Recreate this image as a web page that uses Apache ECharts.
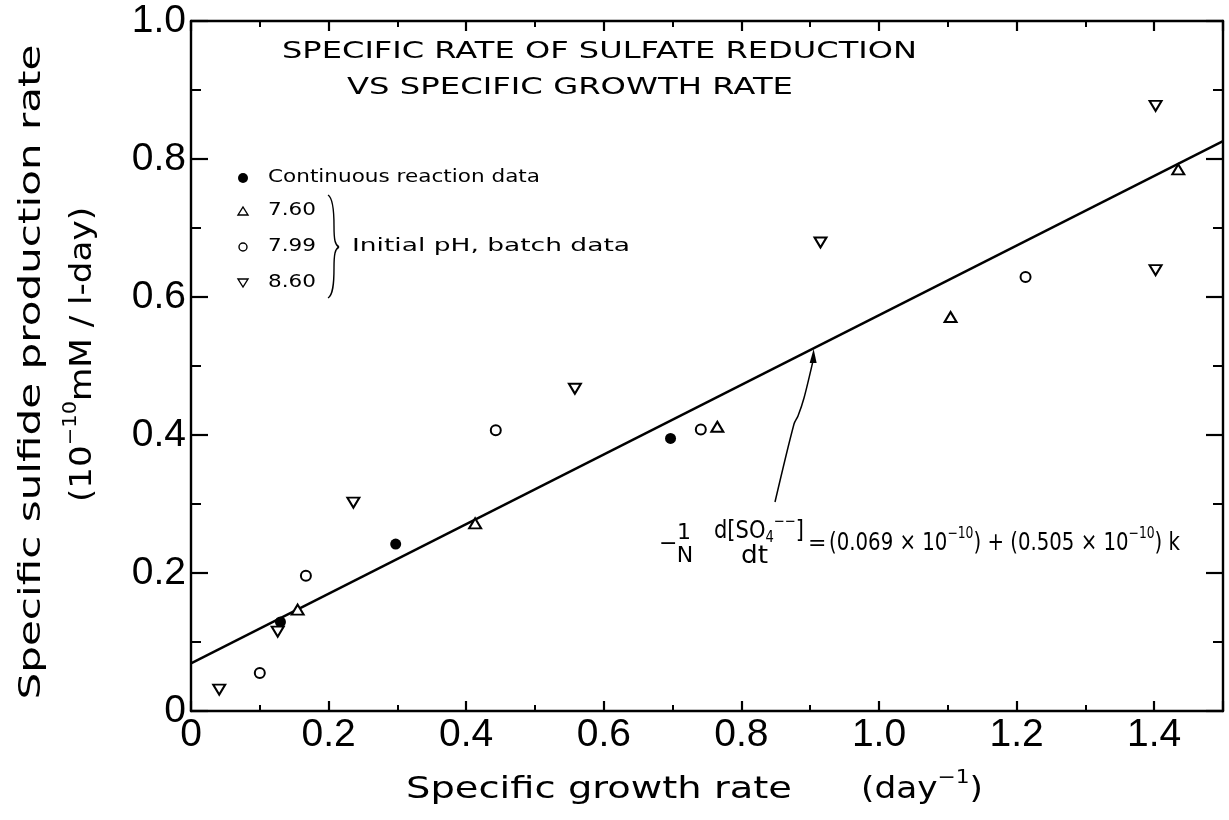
<!DOCTYPE html>
<html><head><meta charset="utf-8">
<script src="https://cdn.jsdelivr.net/npm/echarts@6/dist/echarts.min.js"></script>
<style>html,body{margin:0;padding:0;background:#fff}#c{width:1229px;height:820px}</style>
</head><body><div id="c"></div>
<script>
// ---- data ----
const xTickLabels = ['0', '0.2', '0.4', '0.6', '0.8', '1.0', '1.2', '1.4'];
const yTickLabels = ['0', '0.2', '0.4', '0.6', '0.8', '1.0'];
const continuousX = [0.130, 0.2975, 0.697];
const continuousY = [0.129, 0.242, 0.395];
const ph760X = [0.155, 0.413, 0.765, 1.104, 1.435];
const ph760Y = [0.147, 0.272, 0.412, 0.571, 0.785];
const ph799X = [0.100, 0.167, 0.443, 0.741, 1.213];
const ph799Y = [0.055, 0.196, 0.407, 0.408, 0.629];
const ph860X = [0.041, 0.126, 0.236, 0.558, 0.915, 1.402, 1.402];
const ph860Y = [0.031, 0.115, 0.302, 0.467, 0.679, 0.877, 0.639];
const fitX = [0, 1.5];
const fitY = [0.069, 0.826];
const arrowTarget = [0.905, 0.526];

const pairs = (xs, ys) => xs.map((x, i) => [x, ys[i]]);
const FONT = '"DejaVu Sans", "Liberation Sans", sans-serif';
const NUMFONT = '"Liberation Sans", Arial, sans-serif';
const mctx = document.createElement('canvas').getContext('2d');
function w(text, size) { mctx.font = size + 'px ' + FONT; return mctx.measureText(text).width; }
function T(text, x, y, size, targetW, align, rot) {
  const sx = targetW ? targetW / w(text, size) : 1;
  const el = { type: 'text', x: x, y: y, scaleX: sx, z: 10,
    style: { text: text, font: size + 'px ' + FONT, fill: '#000', textAlign: align || 'left', textVerticalAlign: 'middle' } };
  if (rot) el.rotation = rot;
  return el;
}
// lay out a run of text pieces [text, size, raise] along a (possibly rotated) baseline
function P(pieces, x0, y0, targetW, rot) {
  rot = rot || 0;
  const natural = pieces.reduce((s, p) => s + w(p[0], p[1]), 0);
  const sx = targetW / natural;
  const dir = [Math.cos(rot), -Math.sin(rot)], up = [-Math.sin(rot), -Math.cos(rot)];
  let off = 0; const out = [];
  pieces.forEach(([t, size, raise]) => {
    out.push({ type: 'text', x: x0 + dir[0] * off + up[0] * raise, y: y0 + dir[1] * off + up[1] * raise,
      rotation: rot, scaleX: sx, z: 10,
      style: { text: t, font: size + 'px ' + FONT, fill: '#000', textAlign: 'left', textVerticalAlign: 'middle' } });
    off += w(t, size) * sx;
  });
  return out;
}
function B(p0, c1, c2, p1, lw) {
  return { type: 'bezierCurve', z: 10, shape: { x1: p0[0], y1: p0[1], cpx1: c1[0], cpy1: c1[1], cpx2: c2[0], cpy2: c2[1], x2: p1[0], y2: p1[1] },
    style: { stroke: '#000', lineWidth: lw || 1.4, fill: null } };
}

const chart = echarts.init(document.getElementById('c'), null, { renderer: 'canvas' });
const axisCommon = {
  type: 'value', min: 0,
  axisLine: { show: true, onZero: false, lineStyle: { color: '#000', width: 2.4 } },
  splitLine: { show: false }, minorSplitLine: { show: false }
};
const xFmt = v => { const i = Math.round(v / 0.2); return Math.abs(v - i * 0.2) < 1e-6 && i < xTickLabels.length ? xTickLabels[i] : ''; };
const yFmt = v => { const i = Math.round(v / 0.2); return Math.abs(v - i * 0.2) < 1e-6 && i < yTickLabels.length ? yTickLabels[i] : ''; };
const xTick = { inside: true, length: 10, lineStyle: { color: '#000', width: 2.2 } };
const xMinor = { show: true, splitNumber: 2, length: 6, lineStyle: { color: '#000', width: 2 } };
const yTick = { inside: true, length: 17, lineStyle: { color: '#000', width: 2.2 } };
const yMinor = { show: true, splitNumber: 2, length: 10, lineStyle: { color: '#000', width: 2 } };

const option = {
  animation: false,
  backgroundColor: '#fff',
  grid: { left: 191, right: 6, top: 21, bottom: 109 },
  xAxis: [
    Object.assign({}, axisCommon, { max: 1.5, interval: 0.2, position: 'bottom', axisTick: xTick, minorTick: xMinor,
      axisLabel: { formatter: xFmt, fontSize: 39, fontFamily: NUMFONT, color: '#000', margin: 5 } }),
    Object.assign({}, axisCommon, { max: 1.5, interval: 0.2, position: 'top', axisTick: xTick, minorTick: xMinor,
      axisLabel: { show: false } })
  ],
  yAxis: [
    Object.assign({}, axisCommon, { max: 1, interval: 0.2, position: 'left', axisTick: yTick, minorTick: yMinor,
      axisLabel: { formatter: yFmt, fontSize: 39, fontFamily: NUMFONT, color: '#000', margin: 5 } }),
    Object.assign({}, axisCommon, { max: 1, interval: 0.2, position: 'right', axisTick: yTick, minorTick: yMinor,
      axisLabel: { show: false } })
  ],
  series: [
    { type: 'line', data: pairs(fitX, fitY), symbol: 'none', lineStyle: { color: '#000', width: 2.4 }, z: 1 },
    { type: 'scatter', data: pairs(continuousX, continuousY), symbol: 'circle', symbolSize: 11,
      itemStyle: { color: '#000', opacity: 1 }, z: 3 },
    { type: 'scatter', data: pairs(ph760X, ph760Y), symbol: 'triangle', symbolSize: [12, 10],
      itemStyle: { color: '#fff', borderColor: '#000', borderWidth: 2, opacity: 1 }, z: 3 },
    { type: 'scatter', data: pairs(ph799X, ph799Y), symbol: 'circle', symbolSize: 10,
      itemStyle: { color: '#fff', borderColor: '#000', borderWidth: 2, opacity: 1 }, z: 3 },
    { type: 'scatter', data: pairs(ph860X, ph860Y), symbol: 'triangle', symbolRotate: 180, symbolSize: [12, 10],
      itemStyle: { color: '#fff', borderColor: '#000', borderWidth: 2, opacity: 1 }, z: 3 }
  ]
};
chart.setOption(option);

// ---- annotations (positions only) ----
let g = [];
g.push(T('SPECIFIC RATE OF SULFATE REDUCTION', 282, 52, 23, 635));
g.push(T('VS SPECIFIC GROWTH RATE', 347, 88, 23, 446));
const legX = 243, legTextX = 268;
g.push({ type: 'circle', shape: { cx: legX, cy: 178, r: 5 }, style: { fill: '#000' }, z: 10 });
g.push(T('Continuous reaction data', legTextX, 178, 17, 272));
g.push({ type: 'polygon', shape: { points: [[legX - 5, 215], [legX + 5, 215], [legX, 207]] }, style: { fill: '#fff', stroke: '#000', lineWidth: 1.4 }, z: 10 });
g.push(T('7.60', legTextX, 211, 17, 48));
g.push({ type: 'circle', shape: { cx: legX, cy: 247, r: 4 }, style: { fill: '#fff', stroke: '#000', lineWidth: 1.4 }, z: 10 });
g.push(T('7.99', legTextX, 247, 17, 48));
g.push({ type: 'polygon', shape: { points: [[legX - 5, 279], [legX + 5, 279], [legX, 287]] }, style: { fill: '#fff', stroke: '#000', lineWidth: 1.4 }, z: 10 });
g.push(T('8.60', legTextX, 283, 17, 48));
// brace
g.push(B([328, 195], [333, 198], [334, 212], [334, 226]));
g.push(B([334, 226], [334, 240], [335, 245], [339, 247]));
g.push(B([339, 247], [335, 249], [334, 254], [334, 268]));
g.push(B([334, 268], [334, 284], [333, 295], [328, 298]));
g.push(T('Initial pH, batch data', 352, 247, 17, 278));
// equation
g.push(T('\u2212', 659, 544, 22));
g.push(T('1', 684, 533, 22, null, 'center'));
g.push(T('N', 685, 556, 22, null, 'center'));
g = g.concat(P([['d[SO', 24, 0], ['4', 15, -6], ['\u2212\u2212', 15, 10], [']', 24, 0]], 714, 532, 90));
g.push(T('dt', 741, 557, 24, 27));
g.push(T('=', 808, 544, 22));
g = g.concat(P([['(0.069 \u00D7 10', 24, 0], ['\u221210', 15, 10], [') + (0.505 \u00D7 10', 24, 0], ['\u221210', 15, 10], [') k', 24, 0]], 829, 544, 351));
// axis titles
g.push(T('Specific growth rate', 406, 790, 30, 386));
g = g.concat(P([['(day', 30, 0], ['\u22121', 19, 12], [')', 30, 0]], 861, 790, 122));
g.push(T('Specific sulfide production rate', 32, 372, 31, 655, 'center', Math.PI / 2));
g = g.concat(P([['(10', 31, 0], ['\u221210', 19, 12], ['mM / l-day)', 31, 0]], 83, 502, 295, Math.PI / 2));
// arrow from the equation to the fitted line
const tip = chart.convertToPixel({ xAxisIndex: 0, yAxisIndex: 0 }, arrowTarget);
g.push({ type: 'polyline', z: 10, shape: { points: [[775, 502], [794, 424], [798, 416], [804, 398], [tip[0], tip[1] + 10]], smooth: 0.3 },
  style: { stroke: '#000', lineWidth: 1.5, fill: null } });
g.push({ type: 'polygon', shape: { points: [[tip[0], tip[1] + 1], [tip[0] - 4, tip[1] + 15], [tip[0] + 3, tip[1] + 15]] }, style: { fill: '#000' }, z: 10 });
chart.setOption({ graphic: { elements: g } });
</script></body></html>
